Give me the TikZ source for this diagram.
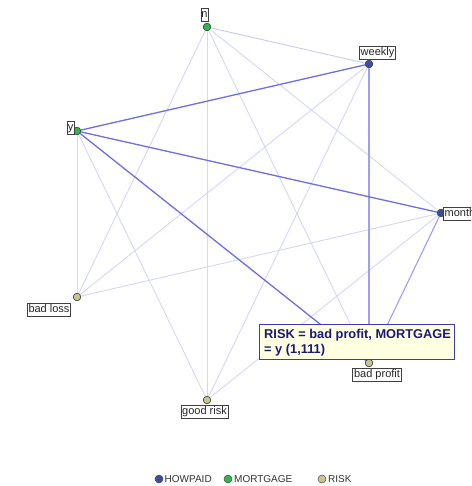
\documentclass[tikz,border=0pt]{standalone}
\usepackage{fontspec}
\setmainfont{Liberation Sans}
\definecolor{hp}{RGB}{58,78,160}
\definecolor{mg}{RGB}{46,184,75}
\definecolor{rk}{RGB}{200,196,140}
\definecolor{strongE}{RGB}{110,110,232}
\definecolor{medE}{RGB}{158,158,242}
\definecolor{lightE}{RGB}{214,214,250}
\definecolor{tipfill}{RGB}{255,255,225}
\definecolor{tipline}{RGB}{60,60,175}
\definecolor{tiptext}{RGB}{25,25,120}
\tikzset{
  dot/.style={circle, draw=black!70, line width=0.6pt, minimum size=7.5pt, inner sep=0pt},
  lbl/.style={draw=black!75, fill=white, line width=0.6pt, font=\fontsize{11}{12}\selectfont, inner sep=1.3pt, text height=8.3pt, text depth=2.4pt, text=black!85},
  strongedge/.style={draw=strongE, line width=1.3pt},
  mededge/.style={draw=medE, line width=1.1pt},
  lightedge/.style={draw=lightE, line width=0.9pt},
  legdot/.style={circle, draw=black!70, line width=0.5pt, minimum size=8pt, inner sep=0pt},
  legtxt/.style={font=\fontsize{10}{11}\selectfont, text=black!80, inner sep=0pt, anchor=west}
}
\begin{document}
\begin{tikzpicture}[x=1pt,y=-1pt]
\useasboundingbox (0,0) rectangle (471,486);
\clip (0,0) rectangle (471,486);
\fill[white] (0,0) rectangle (471,486);
% nodes
\node[dot, fill=mg] (n) at (207,27) {};
\node[dot, fill=hp] (weekly) at (369,64) {};
\node[dot, fill=mg] (y) at (77,131) {};
\node[dot, fill=hp] (monthly) at (441,213) {};
\node[dot, fill=rk] (badloss) at (77,297) {};
\node[dot, fill=rk] (badprofit) at (369,363) {};
\node[dot, fill=rk] (goodrisk) at (207,400) {};
% edges
\draw[lightedge] (n) -- (monthly);
\draw[lightedge] (n) -- (badloss);
\draw[lightedge] (n) -- (goodrisk);
\draw[lightedge] (n) -- (badprofit);
\draw[lightedge] (y) -- (badloss);
\draw[lightedge] (y) -- (goodrisk);
\draw[lightedge] (weekly) -- (badloss);
\draw[lightedge] (weekly) -- (goodrisk);
\draw[lightedge] (monthly) -- (badloss);
\draw[lightedge] (monthly) -- (goodrisk);
\draw[lightedge, draw=lightE!80!medE] (n) -- (weekly);
\draw[mededge] (weekly) -- (badprofit);
\draw[mededge] (monthly) -- (badprofit);
\draw[strongedge] (y) -- (weekly);
\draw[strongedge] (y) -- (monthly);
\draw[strongedge] (y) -- (badprofit);
% redraw dots on top
\node[dot, fill=mg] at (n) {};
\node[dot, fill=hp] at (weekly) {};
\node[dot, fill=mg] at (y) {};
\node[dot, fill=hp] at (monthly) {};
\node[dot, fill=rk] at (badloss) {};
\node[dot, fill=rk] at (badprofit) {};
\node[dot, fill=rk] at (goodrisk) {};
% labels
\node[lbl, inner xsep=0.6pt] (ln) at (204.5,15) {n};
\node[lbl] (lweekly) at (377.5,52.5) {weekly};
\node[lbl, inner xsep=0.6pt] (ly) at (70.5,128) {y};
\node[lbl, anchor=west] (lmonthly) at (443,214) {monthly};
\node[lbl] (lbadloss) at (49,309.5) {bad loss};
\node[lbl] (lbadprofit) at (377,374.5) {bad profit};
\node[lbl] (lgoodrisk) at (204.5,411.5) {good risk};
% tooltip
\node[draw=tipline, fill=tipfill, line width=1.2pt, minimum width=195pt, minimum height=35pt, anchor=north west, inner sep=0pt] (tip) at (259,324) {};
\node[anchor=north west, align=left, inner sep=0pt, text=tiptext, font=\bfseries\fontsize{12.8}{14.2}\selectfont] (tiptxt) at (264,329.5) {RISK = bad profit, MORTGAGE\\= y (1,111)};
% legend
\node[legdot, fill=hp] (lg1) at (159,479) {};
\node[legtxt] (lt1) at (164.5,479.5) {HOWPAID};
\node[legdot, fill=mg] (lg2) at (228,479) {};
\node[legtxt] (lt2) at (234,479.5) {MORTGAGE};
\node[legdot, fill=rk] (lg3) at (322,479) {};
\node[legtxt] (lt3) at (328,479.5) {RISK};
\end{tikzpicture}
\end{document}
